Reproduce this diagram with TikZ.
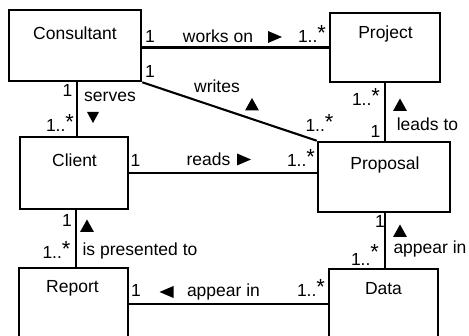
\documentclass[tikz,border=0pt]{standalone}
\usepackage{fontspec}
\setmainfont{Liberation Sans}
\newcommand\onemany[1][2.5pt]{1..\raisebox{#1}{\scalebox{1.25}{*}}}
\begin{document}
\begin{tikzpicture}[x=1pt,y=-1pt,
  every node/.style={font=\fontsize{17.5}{20}\selectfont},
  classbox/.style={draw,line width=2.6pt,inner sep=0pt},
  assoc/.style={line width=2.1pt},
  lbl/.style={anchor=base,inner sep=0pt},
  triR/.pic={\fill (-7,-6) -- (7,0) -- (-7,6) -- cycle;},
  triL/.pic={\fill (7,-6) -- (-7,0) -- (7,6) -- cycle;},
  triU/.pic={\fill (-7,6) -- (0,-6.5) -- (7,6) -- cycle;},
  triD/.pic={\fill (-6,-5.5) -- (0,5.5) -- (6,-5.5) -- cycle;}]
\clip (0,0) rectangle (469,336);

% classes
\node[classbox,minimum width=132pt,minimum height=71pt] (consultant) at (75,45.5) {};
\node[classbox,minimum width=110pt,minimum height=69pt] (project) at (385,47.5) {};
\node[classbox,minimum width=108pt,minimum height=72pt] (client) at (74,173) {};
\node[classbox,minimum width=132pt,minimum height=70pt] (proposal) at (384,177) {};
\node[classbox,minimum width=109pt,minimum height=72pt] (report) at (73.5,304) {};
\node[classbox,minimum width=109pt,minimum height=70pt] (data) at (383.5,304) {};

\node[lbl] (tconsultant) at (75,40) {Consultant};
\node[lbl] (tproject) at (385.5,39) {Project};
\node[lbl] (tclient) at (74.5,167) {Client};
\node[lbl] (tproposal) at (385,170) {Proposal};
\node[lbl] (treport) at (72.5,293) {Report};
\node[lbl] (tdata) at (383.5,295) {Data};

% associations
\draw[assoc] (consultant.east |- project.west) -- (project.west);
\draw[assoc] (consultant.south east) -- (proposal.north west);
\draw[assoc] ([xshift=3pt]client.north |- consultant.south) -- ([xshift=3pt]client.north);
\draw[assoc] ([xshift=2pt]client.south) -- ([xshift=2pt]client.south |- report.north);
\draw[assoc] (project.south) -- (project.south |- proposal.north);
\draw[assoc] (client.east) -- (client.east -| proposal.west);
\draw[assoc] ([xshift=1pt]proposal.south) -- ([xshift=1pt]proposal.south |- data.north);
\draw[assoc] (report.east) -- (data.west);

% works on
\node[lbl] (m1) at (150,43) {1};
\node[lbl] (n1) at (218,43) {works on};
\pic at (275,37) {triR};
\node[lbl] (m2) at (312,43) {\onemany};

% writes
\node[lbl] (m3) at (150,78) {1};
\node[lbl] (n2) at (217,93) {writes};
\pic at (252,104.5) {triU};
\node[lbl] (m4) at (319.5,132) {\onemany};

% serves
\node[lbl] (m5) at (67.5,97) {1};
\node[lbl] (n3) at (110,102) {serves};
\pic at (93,117.5) {triD};
\node[lbl] (m6) at (60,132) {\onemany};

% leads to
\node[lbl] (m7) at (366,106) {\onemany};
\node[lbl] (m8) at (375.5,138) {1};
\pic at (400,105) {triU};
\node[lbl] (n4) at (427.5,131) {leads to};

% reads
\node[lbl] (m9) at (135.5,167) {1};
\node[lbl] (n5) at (208.5,166) {reads};
\pic at (244,159.5) {triR};
\node[lbl] (m10) at (301,167) {\onemany};

% is presented to
\node[lbl] (m11) at (67,227) {1};
\pic at (87,226) {triU};
\node[lbl] (m12) at (56.5,259) {\onemany};
\node[lbl] (n6) at (140,256) {is presented to};

% appear in (proposal-data)
\node[lbl] (m13) at (380,228) {1};
\pic at (400,231) {triU};
\node[lbl] (n7) at (430,254) {appear in};
\node[lbl] (m14) at (365,266) {\onemany[6pt]};

% appear in (report-data)
\node[lbl] (m15) at (136,297) {1};
\pic at (166.5,292) {triL};
\node[lbl] (n8) at (223.5,297) {appear in};
\node[lbl] (m16) at (311,297) {\onemany};
\end{tikzpicture}
\end{document}
